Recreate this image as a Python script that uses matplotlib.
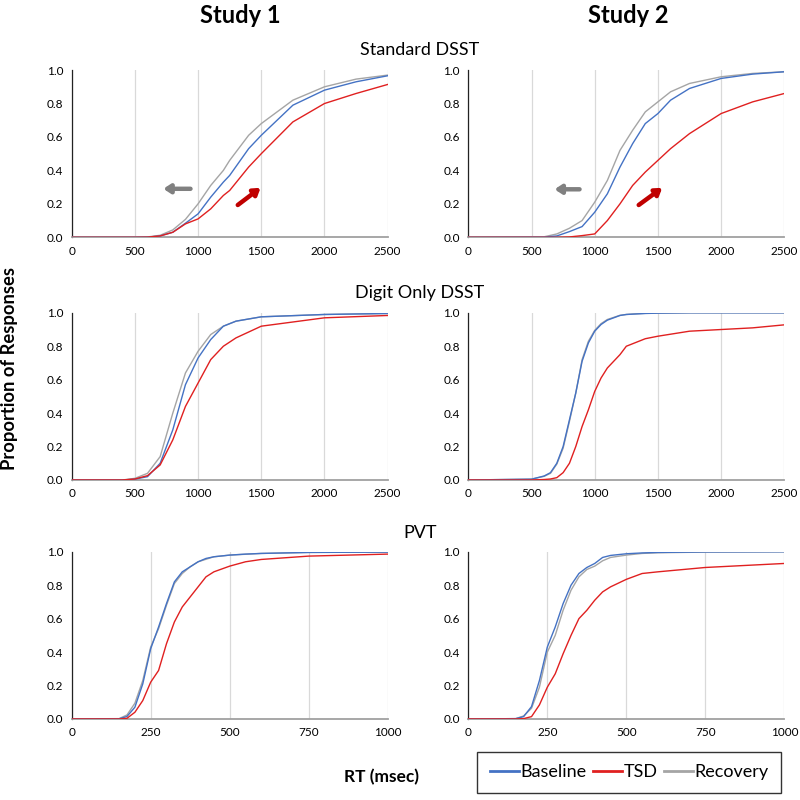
import matplotlib
matplotlib.use("Agg")
import matplotlib.pyplot as plt
from matplotlib.lines import Line2D

plt.rcParams['font.family'] = ['Lato', 'DejaVu Sans']

#------------------------------------------------------------------------------
# Data (cumulative proportion of responses)
#------------------------------------------------------------------------------

series_names = ["Baseline", "TSD", "Recovery"]
series_colors = ["#4472C4", "#E02020", "#A5A5A5"]

study_titles = ["Study 1", "Study 2"]
row_titles = ["Standard DSST", "Digit Only DSST", "PVT"]

# Study 1, Standard DSST
s1_dsst_x = [0, 500, 600, 700, 800, 900, 1000, 1100, 1200, 1250, 1400, 1500, 1750, 2000, 2250, 2500]
s1_dsst_base = [0, 0, 0.001, 0.008, 0.03, 0.084, 0.14, 0.24, 0.33, 0.37, 0.53, 0.61, 0.79, 0.88, 0.93, 0.966]
s1_dsst_tsd = [0, 0, 0.001, 0.008, 0.03, 0.08, 0.11, 0.17, 0.25, 0.28, 0.42, 0.50, 0.69, 0.80, 0.86, 0.914]
s1_dsst_rec = [0, 0, 0.002, 0.012, 0.044, 0.107, 0.20, 0.31, 0.40, 0.46, 0.61, 0.68, 0.82, 0.90, 0.946, 0.97]

# Study 2, Standard DSST
s2_dsst_x = [0, 600, 700, 800, 900, 1000, 1100, 1200, 1300, 1400, 1500, 1600, 1750, 2000, 2250, 2500]
s2_dsst_base = [0, 0.001, 0.008, 0.034, 0.064, 0.15, 0.26, 0.42, 0.56, 0.68, 0.74, 0.82, 0.89, 0.95, 0.976, 0.99]
s2_dsst_tsd = [0, 0, 0, 0.002, 0.01, 0.02, 0.10, 0.20, 0.31, 0.39, 0.46, 0.53, 0.62, 0.74, 0.81, 0.86]
s2_dsst_rec = [0, 0.003, 0.02, 0.054, 0.10, 0.21, 0.34, 0.52, 0.64, 0.75, 0.81, 0.87, 0.92, 0.96, 0.98, 0.99]

# Study 1, Digit Only DSST
s1_digit_x = [0, 400, 500, 600, 700, 800, 900, 1000, 1100, 1200, 1300, 1500, 2000, 2500]
s1_digit_base = [0, 0, 0.005, 0.02, 0.10, 0.30, 0.57, 0.73, 0.84, 0.92, 0.95, 0.976, 0.99, 0.996]
s1_digit_tsd = [0, 0, 0.006, 0.026, 0.09, 0.24, 0.44, 0.58, 0.72, 0.80, 0.85, 0.92, 0.97, 0.984]
s1_digit_rec = [0, 0, 0.01, 0.04, 0.14, 0.40, 0.64, 0.77, 0.87, 0.92, 0.95, 0.976, 0.99, 0.996]

# Study 2, Digit Only DSST
s2_digit_x = [0, 500, 600, 650, 700, 750, 800, 850, 900, 950, 1000, 1050, 1100, 1200, 1250, 1300, 1400, 1500, 1750, 2000, 2250, 2500]
s2_digit_base = [0, 0.005, 0.024, 0.044, 0.10, 0.20, 0.36, 0.52, 0.71, 0.82, 0.89, 0.93, 0.956, 0.984, 0.99, 0.992, 0.996, 0.998, 1.0, 1.0, 1.0, 1.0]
s2_digit_tsd = [0, 0, 0.003, 0.006, 0.014, 0.044, 0.10, 0.20, 0.32, 0.42, 0.53, 0.61, 0.67, 0.75, 0.80, 0.815, 0.845, 0.86, 0.89, 0.90, 0.91, 0.928]
s2_digit_rec = [0, 0.005, 0.022, 0.04, 0.095, 0.19, 0.35, 0.52, 0.72, 0.83, 0.895, 0.935, 0.96, 0.985, 0.99, 0.993, 0.997, 0.998, 1.0, 1.0, 1.0, 1.0]

# Study 1, PVT
s1_pvt_x = [0, 150, 175, 200, 225, 250, 275, 300, 325, 350, 375, 400, 425, 450, 500, 550, 600, 750, 1000]
s1_pvt_base = [0, 0.001, 0.015, 0.07, 0.21, 0.42, 0.55, 0.69, 0.82, 0.88, 0.91, 0.94, 0.96, 0.97, 0.98, 0.986, 0.99, 0.996, 0.998]
s1_pvt_tsd = [0, 0, 0.004, 0.04, 0.11, 0.22, 0.29, 0.45, 0.58, 0.67, 0.73, 0.79, 0.85, 0.88, 0.914, 0.94, 0.954, 0.974, 0.986]
s1_pvt_rec = [0, 0.002, 0.024, 0.094, 0.23, 0.43, 0.54, 0.68, 0.81, 0.87, 0.91, 0.94, 0.955, 0.97, 0.98, 0.985, 0.99, 0.996, 0.998]

# Study 2, PVT
s2_pvt_x = [0, 150, 175, 200, 225, 250, 275, 300, 325, 350, 375, 400, 425, 450, 500, 550, 600, 750, 1000]
s2_pvt_base = [0, 0.002, 0.014, 0.074, 0.23, 0.43, 0.55, 0.69, 0.80, 0.87, 0.906, 0.93, 0.966, 0.978, 0.988, 0.993, 0.996, 0.999, 1.0]
s2_pvt_tsd = [0, 0, 0.002, 0.014, 0.084, 0.19, 0.27, 0.39, 0.50, 0.60, 0.65, 0.71, 0.76, 0.79, 0.835, 0.87, 0.88, 0.906, 0.93]
s2_pvt_rec = [0, 0.002, 0.018, 0.064, 0.19, 0.40, 0.50, 0.65, 0.77, 0.85, 0.894, 0.914, 0.946, 0.966, 0.98, 0.99, 0.994, 0.998, 1.0]

dsst_ticks = [0, 500, 1000, 1500, 2000, 2500]
pvt_ticks = [0, 250, 500, 750, 1000]
y_ticks = [0.0, 0.2, 0.4, 0.6, 0.8, 1.0]

# arrows in the Standard DSST panels: (tail x, tail y, head x, head y)
s1_arrow_rec = (940, 0.29, 725, 0.29)
s1_arrow_tsd = (1314, 0.193, 1494, 0.296)
s2_arrow_rec = (880, 0.287, 682, 0.287)
s2_arrow_tsd = (1348, 0.193, 1534, 0.296)

panels = [
    [(s1_dsst_x, [s1_dsst_base, s1_dsst_tsd, s1_dsst_rec], dsst_ticks),
     (s2_dsst_x, [s2_dsst_base, s2_dsst_tsd, s2_dsst_rec], dsst_ticks)],
    [(s1_digit_x, [s1_digit_base, s1_digit_tsd, s1_digit_rec], dsst_ticks),
     (s2_digit_x, [s2_digit_base, s2_digit_tsd, s2_digit_rec], dsst_ticks)],
    [(s1_pvt_x, [s1_pvt_base, s1_pvt_tsd, s1_pvt_rec], pvt_ticks),
     (s2_pvt_x, [s2_pvt_base, s2_pvt_tsd, s2_pvt_rec], pvt_ticks)],
]

#------------------------------------------------------------------------------
# Plot
#------------------------------------------------------------------------------

fig = plt.figure(figsize=(8, 8), dpi=100)

col_left = [0.0896, 0.5854]
col_width = 0.395
row_bottom = [0.7034, 0.400, 0.1013]
row_height = 0.209

axes = []
for r in range(3):
    for c in range(2):
        xs, ys, ticks = panels[r][c]
        ax = fig.add_axes([col_left[c], row_bottom[r], col_width, row_height])
        axes.append(ax)
        # recovery first so that baseline and tsd lie over it
        for i in [2, 0, 1]:
            ax.plot(xs, ys[i], color=series_colors[i], lw=1.0, zorder=3)
        ax.set_xlim(ticks[0], ticks[-1])
        ax.set_ylim(0, 1.0)
        ax.set_xticks(ticks)
        ax.set_yticks(y_ticks)
        ax.set_yticklabels(["%.1f" % v for v in y_ticks])
        ax.tick_params(length=0, labelsize=8.5, pad=6)
        ax.grid(axis='x', color='#D9D9D9', lw=0.9)
        ax.set_axisbelow(True)
        for s in ['top', 'right']:
            ax.spines[s].set_visible(False)
        ax.spines['left'].set_color('#222222')
        ax.spines['left'].set_linewidth(0.9)
        ax.spines['bottom'].set_color('#A0A0A0')
        ax.spines['bottom'].set_linewidth(1.3)

def draw_arrow(ax, a, color):
    ax.annotate('', xy=(a[2], a[3]), xytext=(a[0], a[1]),
                arrowprops=dict(arrowstyle='-|>,head_width=0.25,head_length=0.38',
                                lw=3.2, color=color, shrinkA=0, shrinkB=0))

draw_arrow(axes[0], s1_arrow_rec, '#808080')
draw_arrow(axes[0], s1_arrow_tsd, '#C00000')
draw_arrow(axes[1], s2_arrow_rec, '#808080')
draw_arrow(axes[1], s2_arrow_tsd, '#C00000')

# titles
fig.text(0.300, 0.981, study_titles[0], ha='center', va='center', fontsize=17, fontweight='bold')
fig.text(0.786, 0.981, study_titles[1], ha='center', va='center', fontsize=17, fontweight='bold')
for r, y in enumerate([0.938, 0.634, 0.334]):
    fig.text(0.525, y, row_titles[r], ha='center', va='center', fontsize=13)

fig.text(0.012, 0.54, "Proportion of Responses", rotation=90, ha='center', va='center',
         fontsize=13.2, fontweight='bold')
fig.text(0.477, 0.029, "RT (msec)", ha='center', va='center', fontsize=12.5, fontweight='bold')

handles = [Line2D([], [], color=series_colors[i], lw=2) for i in range(3)]
leg = fig.legend(handles, series_names, loc='center', bbox_to_anchor=(0.7865, 0.0345),
                 ncol=3, frameon=True, fancybox=False, fontsize=13,
                 handlelength=1.6, handletextpad=0.1, columnspacing=0.35,
                 borderpad=0.7, borderaxespad=0)
leg.get_frame().set_edgecolor('black')
leg.get_frame().set_linewidth(1.0)

fig.savefig("out.png", dpi=100)
